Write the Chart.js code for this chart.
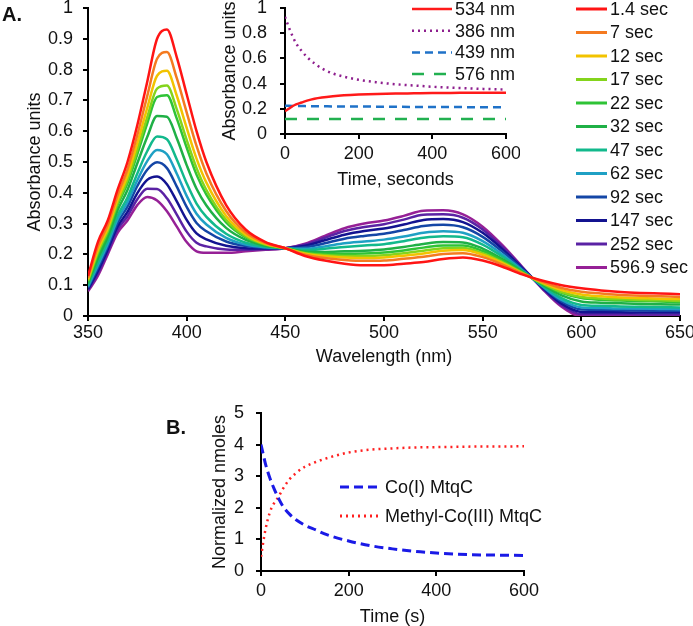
<!DOCTYPE html>
<html>
<head>
<meta charset="utf-8">
<script src="https://cdn.jsdelivr.net/npm/chart.js@4.4.1/dist/chart.umd.min.js"></script>
<style>
  html, body { margin: 0; padding: 0; background: #fff; overflow: hidden; }
  #wrap { position: relative; width: 693px; height: 626px; background: #fff; }
  canvas { position: absolute; }
  .panel { position: absolute; font: bold 20px "Liberation Sans", Arial, sans-serif; color: #111; }
</style>
</head>
<body>
<div id="wrap">
  <canvas id="main" style="left:0;top:0"></canvas>
  <canvas id="inset" style="left:200px;top:0"></canvas>
  <canvas id="panelB" style="left:150px;top:390px"></canvas>
  <div class="panel" style="left:2px;top:3px">A.</div>
  <div class="panel" style="left:166px;top:416px">B.</div>
</div>
<script>
// ---------- Panel A: spectra ----------
const wavelengths = [350,355,360,365,370,375,380,385,390,395,400,405,410,420,430,440,450,460,470,480,490,500,510,520,530,540,550,560,570,580,590,600,610,620,630,640,650];
const seriesLabels = ["1.4 sec","7 sec","12 sec","17 sec","22 sec","32 sec","47 sec","62 sec","92 sec","147 sec","252 sec","596.9 sec"];
const seriesColors = ["#ff1414","#f47a20","#f2c300","#84d41c","#2fc336","#1fb046","#12b98c","#1fa0c4","#1446a6","#131390","#5a22a4","#962096"];

const abs_1_4s = [0.130,0.240,0.310,0.410,0.500,0.620,0.760,0.900,0.930,0.840,0.720,0.600,0.500,0.360,0.280,0.240,0.220,0.195,0.180,0.170,0.165,0.165,0.170,0.175,0.185,0.190,0.180,0.160,0.135,0.115,0.100,0.090,0.083,0.078,0.075,0.073,0.071];
const abs_7s   = [0.124,0.226,0.296,0.393,0.476,0.588,0.714,0.835,0.857,0.772,0.661,0.552,0.463,0.341,0.271,0.237,0.220,0.199,0.188,0.182,0.179,0.180,0.186,0.192,0.201,0.204,0.191,0.167,0.138,0.112,0.091,0.079,0.073,0.068,0.066,0.064,0.062];
const abs_12s  = [0.119,0.215,0.285,0.378,0.457,0.561,0.675,0.780,0.796,0.715,0.611,0.511,0.433,0.325,0.264,0.234,0.220,0.202,0.194,0.190,0.188,0.190,0.196,0.203,0.212,0.214,0.199,0.172,0.139,0.109,0.084,0.070,0.064,0.060,0.058,0.056,0.055];
const abs_17s  = [0.115,0.206,0.276,0.367,0.442,0.540,0.645,0.738,0.748,0.671,0.572,0.480,0.409,0.312,0.258,0.232,0.220,0.204,0.198,0.195,0.195,0.197,0.204,0.212,0.220,0.221,0.204,0.175,0.141,0.107,0.078,0.062,0.057,0.054,0.052,0.051,0.049];
const abs_22s  = [0.112,0.200,0.270,0.360,0.431,0.526,0.625,0.711,0.717,0.641,0.547,0.459,0.394,0.304,0.255,0.231,0.220,0.206,0.202,0.202,0.203,0.206,0.213,0.222,0.229,0.229,0.211,0.180,0.142,0.106,0.075,0.058,0.053,0.050,0.048,0.047,0.045];
const abs_32s  = [0.106,0.187,0.257,0.343,0.409,0.496,0.581,0.649,0.647,0.577,0.490,0.413,0.359,0.286,0.247,0.228,0.220,0.209,0.208,0.210,0.212,0.216,0.224,0.234,0.240,0.239,0.219,0.185,0.144,0.103,0.067,0.047,0.043,0.041,0.039,0.038,0.037];
const abs_47s  = [0.100,0.174,0.244,0.326,0.385,0.463,0.535,0.583,0.574,0.508,0.431,0.365,0.322,0.267,0.238,0.225,0.220,0.214,0.218,0.224,0.229,0.233,0.243,0.254,0.259,0.256,0.232,0.193,0.147,0.100,0.058,0.036,0.033,0.031,0.030,0.029,0.028];
const abs_62s  = [0.096,0.164,0.234,0.314,0.370,0.441,0.503,0.539,0.525,0.462,0.390,0.332,0.297,0.254,0.232,0.223,0.220,0.218,0.226,0.236,0.242,0.248,0.258,0.270,0.275,0.270,0.243,0.200,0.149,0.098,0.052,0.028,0.026,0.024,0.024,0.023,0.022];
const abs_92s  = [0.092,0.156,0.226,0.303,0.355,0.422,0.475,0.499,0.480,0.420,0.354,0.302,0.275,0.242,0.227,0.221,0.220,0.223,0.236,0.251,0.260,0.267,0.279,0.292,0.296,0.288,0.257,0.209,0.153,0.096,0.047,0.021,0.020,0.019,0.018,0.017,0.017];
const abs_147s = [0.087,0.146,0.216,0.291,0.338,0.399,0.442,0.453,0.428,0.372,0.312,0.268,0.249,0.228,0.220,0.219,0.220,0.228,0.246,0.264,0.276,0.284,0.297,0.312,0.315,0.305,0.270,0.217,0.156,0.094,0.040,0.013,0.012,0.012,0.011,0.011,0.011];
const abs_252s = [0.084,0.138,0.208,0.280,0.324,0.379,0.413,0.412,0.382,0.329,0.274,0.238,0.226,0.216,0.215,0.217,0.220,0.232,0.254,0.276,0.289,0.298,0.313,0.329,0.330,0.319,0.281,0.224,0.158,0.092,0.035,0.006,0.006,0.006,0.005,0.005,0.005];
const abs_597s = [0.080,0.130,0.200,0.270,0.310,0.360,0.386,0.375,0.340,0.290,0.240,0.210,0.205,0.205,0.210,0.215,0.220,0.235,0.260,0.285,0.300,0.310,0.325,0.342,0.343,0.330,0.290,0.230,0.160,0.090,0.030,0.000,0.000,0.000,0.000,0.000,0.000];
const spectra = [abs_1_4s,abs_7s,abs_12s,abs_17s,abs_22s,abs_32s,abs_47s,abs_62s,abs_92s,abs_147s,abs_252s,abs_597s];
const mainXTicks = [350,400,450,500,550,600,650];
const mainYTicks = [0,0.1,0.2,0.3,0.4,0.5,0.6,0.7,0.8,0.9,1];

// ---------- Inset: kinetics at single wavelengths ----------
const insetTime = [0,10,20,30,45,60,80,100,130,160,200,250,300,350,400,450,500,550,600];
const inset534 = [0.18,0.20,0.22,0.235,0.25,0.265,0.28,0.29,0.30,0.307,0.313,0.318,0.321,0.323,0.325,0.326,0.327,0.328,0.328];
const inset386 = [0.93,0.85,0.78,0.72,0.66,0.61,0.56,0.52,0.48,0.455,0.43,0.41,0.395,0.385,0.375,0.368,0.362,0.357,0.353];
const inset439 = [0.225,0.224,0.223,0.222,0.222,0.221,0.220,0.220,0.219,0.219,0.218,0.217,0.216,0.215,0.215,0.214,0.213,0.212,0.212];
const inset576 = [0.12,0.12,0.12,0.12,0.12,0.12,0.12,0.12,0.12,0.12,0.12,0.12,0.12,0.12,0.12,0.12,0.12,0.12,0.12];
const insetLabels = ["534 nm","386 nm","439 nm","576 nm"];
const insetXTicks = [0,200,400,600];
const insetYTicks = [0,0.2,0.4,0.6,0.8,1];

// ---------- Panel B ----------
const bTime = [0,5,10,20,30,40,50,65,80,100,125,150,200,250,300,350,400,450,500,550,600];
const coI = [4.0,3.7,3.4,2.95,2.6,2.3,2.05,1.8,1.62,1.45,1.3,1.15,0.95,0.8,0.7,0.62,0.57,0.53,0.51,0.5,0.49];
const methylCoIII = [0.45,0.9,1.3,1.85,2.15,2.35,2.6,2.9,3.1,3.3,3.45,3.57,3.75,3.84,3.88,3.91,3.92,3.93,3.94,3.94,3.95];
const bLabels = ["Co(I) MtqC","Methyl-Co(III) MtqC"];
const bXTicks = [0,200,400,600];
const bYTicks = [0,1,2,3,4,5];

// ---------- helpers ----------
const FONT = '"Liberation Sans", Arial, sans-serif';
Chart.defaults.font.family = FONT;
Chart.defaults.font.size = 18;
Chart.defaults.color = '#111';

function pts(xs, ys) { return xs.map((x, i) => ({x: x, y: ys[i]})); }

const legendPlugin = {
  id: 'customLegend',
  afterDraw(chart, args, opts) {
    const ctx = chart.ctx;
    ctx.save();
    chart.data.datasets.forEach((ds, i) => {
      const y = opts.y0 + i * opts.dy;
      ctx.strokeStyle = ds.borderColor;
      ctx.lineWidth = opts.lw || ds.borderWidth;
      ctx.setLineDash(ds.borderDash || []);
      ctx.beginPath(); ctx.moveTo(opts.x0, y); ctx.lineTo(opts.x1, y); ctx.stroke();
      ctx.setLineDash([]);
      ctx.fillStyle = '#111';
      ctx.font = '18px ' + FONT;
      ctx.textBaseline = 'middle';
      ctx.textAlign = 'left';
      ctx.fillText(ds.label, opts.tx, y + 1);
    });
    ctx.restore();
  }
};

function axisCommon(tickArr, extra) {
  return Object.assign({
    type: 'linear',
    border: {display: true, color: '#000', width: 2},
    grid: {display: true, drawOnChartArea: false, drawTicks: true, tickLength: 5, color: '#000', lineWidth: 2},
    afterBuildTicks: (s) => { s.ticks = tickArr.map(v => ({value: v})); },
  }, extra);
}

function makeChart(id, w, h, datasets, cfg) {
  const cv = document.getElementById(id);
  cv.width = w; cv.height = h;
  cv.style.width = w + 'px'; cv.style.height = h + 'px';
  return new Chart(cv, {
    type: 'line',
    data: {datasets: datasets},
    plugins: [legendPlugin],
    options: {
      responsive: false,
      animation: false,
      devicePixelRatio: 1,
      layout: {padding: cfg.padding},
      elements: {point: {radius: 0}, line: {cubicInterpolationMode: 'monotone'}},
      plugins: {legend: {display: false}, tooltip: {enabled: false}, customLegend: cfg.legend},
      scales: {
        x: axisCommon(cfg.xTicks, {
          min: cfg.xMin, max: cfg.xMax,
          ticks: {padding: cfg.xTickPad, maxRotation: 0, autoSkip: false, font: {size: 18}, callback: (v) => String(v)},
          title: {display: true, text: cfg.xTitle, font: {size: 18}, padding: {top: 0, bottom: cfg.xTitlePad}},
          afterFit: (s) => { s.height = cfg.xH; s.paddingLeft = 0; s.paddingRight = 0; }
        }),
        y: axisCommon(cfg.yTicks, {
          min: cfg.yMin, max: cfg.yMax,
          ticks: {padding: cfg.yTickPad, autoSkip: false, font: {size: 18}, callback: (v) => String(v)},
          title: {display: true, text: cfg.yTitle, font: {size: 18}, padding: {top: cfg.yTitlePad, bottom: 0}},
          afterFit: (s) => { s.width = cfg.yW; s.paddingTop = 0; s.paddingBottom = 0; }
        })
      }
    }
  });
}

// Main spectra chart
makeChart('main', 693, 372,
  spectra.map((arr, i) => ({
    label: seriesLabels[i], data: pts(wavelengths, arr),
    borderColor: seriesColors[i], borderWidth: 2.5, fill: false
  })),
  {
    padding: {left: 0, top: 8, right: 13, bottom: 0},
    xMin: 350, xMax: 650, yMin: 0, yMax: 1,
    xTicks: mainXTicks, yTicks: mainYTicks,
    xTitle: 'Wavelength (nm)', yTitle: 'Absorbance units',
    xTickPad: 1, yTickPad: 10, xTitlePad: 4, yTitlePad: 24,
    xH: 56, yW: 88,
    legend: {x0: 576, x1: 607, tx: 610, y0: 9, dy: 23.5, lw: 3}
  });

// Inset kinetics chart
makeChart('inset', 320, 200, [
    {label: insetLabels[0], data: pts(insetTime, inset534), borderColor: '#ff1a1a', borderWidth: 2.5, fill: false},
    {label: insetLabels[1], data: pts(insetTime, inset386), borderColor: '#8e1f8e', borderWidth: 2.5, borderDash: [2, 4], fill: false},
    {label: insetLabels[2], data: pts(insetTime, inset439), borderColor: '#1f72c8', borderWidth: 2.5, borderDash: [8, 5], fill: false},
    {label: insetLabels[3], data: pts(insetTime, inset576), borderColor: '#22b050', borderWidth: 2.5, borderDash: [12, 10], fill: false}
  ],
  {
    padding: {left: 0, top: 8, right: 14, bottom: 0},
    xMin: 0, xMax: 600, yMin: 0, yMax: 1,
    xTicks: insetXTicks, yTicks: insetYTicks,
    xTitle: 'Time, seconds', yTitle: 'Absorbance units',
    xTickPad: 4, yTickPad: 13, xTitlePad: 9, yTitlePad: 19,
    xH: 66, yW: 85,
    legend: {x0: 212, x1: 252, tx: 255, y0: 9, dy: 21.7, lw: 2.5}
  });

// Panel B
makeChart('panelB', 400, 240, [
    {label: bLabels[0], data: pts(bTime, coI), borderColor: '#1a1ae6', borderWidth: 3, borderDash: [9, 5], fill: false},
    {label: bLabels[1], data: pts(bTime, methylCoIII), borderColor: '#ff2020', borderWidth: 2.5, borderDash: [2, 4], fill: false}
  ],
  {
    padding: {left: 0, top: 23, right: 26, bottom: 0},
    xMin: 0, xMax: 600, yMin: 0, yMax: 5,
    xTicks: bXTicks, yTicks: bYTicks,
    xTitle: 'Time (s)', yTitle: 'Normalized nmoles',
    xTickPad: 4, yTickPad: 12, xTitlePad: 2, yTitlePad: 59,
    xH: 59, yW: 111,
    legend: {x0: 190, x1: 232, tx: 235, y0: 97, dy: 29, lw: 3}
  });
</script>
</body>
</html>
